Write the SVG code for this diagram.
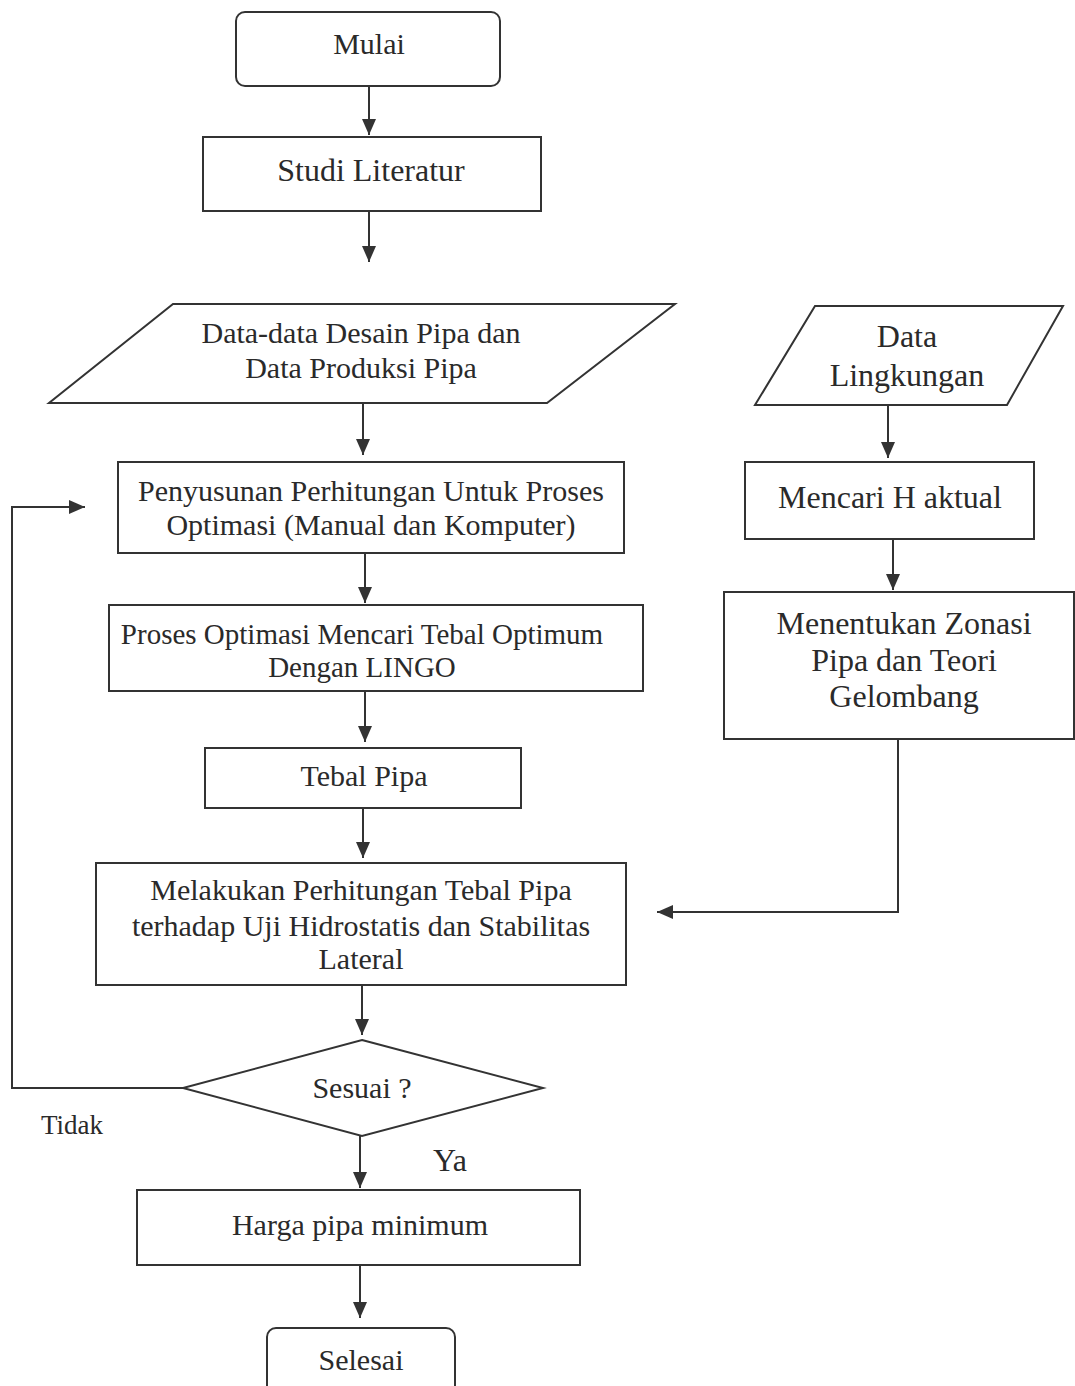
<svg xmlns="http://www.w3.org/2000/svg" width="1075" height="1386" viewBox="0 0 1075 1386">
<style>
.s{fill:#fff;stroke:#333;stroke-width:2}
.t{font-family:"Liberation Serif","Times New Roman",serif;font-size:30px;fill:#2a2a2a;text-anchor:middle}
.b{font-size:32px}
.n{font-size:29px}
.c{fill:none;stroke:#333;stroke-width:2}
</style>
<defs>
<marker id="ah" markerUnits="userSpaceOnUse" markerWidth="18" markerHeight="16" refX="16" refY="8" orient="auto">
<path d="M0,1 L16,8 L0,15 Z" fill="#333"/>
</marker>
</defs>
<rect width="1075" height="1386" fill="#fff"/>
<g id="connectors">
<line class="c" x1="369" y1="86" x2="369" y2="135" marker-end="url(#ah)"/>
<line class="c" x1="369" y1="211" x2="369" y2="262" marker-end="url(#ah)"/>
<line class="c" x1="363" y1="403" x2="363" y2="455" marker-end="url(#ah)"/>
<line class="c" x1="365" y1="553" x2="365" y2="603" marker-end="url(#ah)"/>
<line class="c" x1="365" y1="691" x2="365" y2="742" marker-end="url(#ah)"/>
<line class="c" x1="363" y1="808" x2="363" y2="858" marker-end="url(#ah)"/>
<line class="c" x1="362" y1="985" x2="362" y2="1035" marker-end="url(#ah)"/>
<line class="c" x1="360" y1="1136" x2="360" y2="1188" marker-end="url(#ah)"/>
<line class="c" x1="360" y1="1265" x2="360" y2="1318" marker-end="url(#ah)"/>
<polyline class="c" points="183,1088 12,1088 12,507 85,507" marker-end="url(#ah)"/>
<line class="c" x1="888" y1="405" x2="888" y2="458" marker-end="url(#ah)"/>
<line class="c" x1="893" y1="539" x2="893" y2="590" marker-end="url(#ah)"/>
<polyline class="c" points="898,739 898,912 657,912" marker-end="url(#ah)"/>
</g>
<g id="mulai"><rect class="s" x="236" y="12" width="264" height="74" rx="9"/><text class="t" x="369" y="54">Mulai</text></g>
<g id="studi"><rect class="s" x="203" y="137" width="338" height="74"/><text class="t b" x="371" y="181">Studi Literatur</text></g>
<g id="data-desain"><polygon class="s" points="173,304 675,304 547,403 49,403"/><text class="t" x="361" y="343">Data-data Desain Pipa dan</text><text class="t" x="361" y="378">Data Produksi Pipa</text></g>
<g id="data-lingkungan"><polygon class="s" points="815,306 1063,306 1007,405 755,405"/><text class="t b" x="907" y="347">Data</text><text class="t b" x="907" y="386">Lingkungan</text></g>
<g id="penyusunan"><rect class="s" x="118" y="462" width="506" height="91"/><text class="t" x="371" y="501">Penyusunan Perhitungan Untuk Proses</text><text class="t" x="371" y="535">Optimasi (Manual dan Komputer)</text></g>
<g id="mencari"><rect class="s" x="745" y="462" width="289" height="77"/><text class="t b" x="890" y="508">Mencari H aktual</text></g>
<g id="proses"><rect class="s" x="109" y="605" width="534" height="86"/><text class="t n" x="362" y="644">Proses Optimasi Mencari Tebal Optimum</text><text class="t n" x="362" y="677">Dengan LINGO</text></g>
<g id="menentukan"><rect class="s" x="724" y="592" width="350" height="147"/><text class="t b" x="904" y="634">Menentukan Zonasi</text><text class="t b" x="904" y="671">Pipa dan Teori</text><text class="t b" x="904" y="707">Gelombang</text></g>
<g id="tebal"><rect class="s" x="205" y="748" width="316" height="60"/><text class="t" x="364" y="786">Tebal Pipa</text></g>
<g id="melakukan"><rect class="s" x="96" y="863" width="530" height="122"/><text class="t" x="361" y="900">Melakukan Perhitungan Tebal Pipa</text><text class="t" x="361" y="936">terhadap Uji Hidrostatis dan Stabilitas</text><text class="t" x="361" y="969">Lateral</text></g>
<g id="sesuai"><polygon class="s" points="362,1040 543,1088 362,1136 183,1088"/><text class="t" x="362" y="1098">Sesuai ?</text></g>
<g id="label-tidak"><text class="t" x="72" y="1134" style="font-size:27px">Tidak</text></g>
<g id="label-ya"><text class="t b" x="450" y="1171">Ya</text></g>
<g id="harga"><rect class="s" x="137" y="1190" width="443" height="75"/><text class="t" x="360" y="1235">Harga pipa minimum</text></g>
<g id="selesai"><rect class="s" x="267" y="1328" width="188" height="66" rx="9"/><text class="t" x="361" y="1370">Selesai</text></g>
</svg>
